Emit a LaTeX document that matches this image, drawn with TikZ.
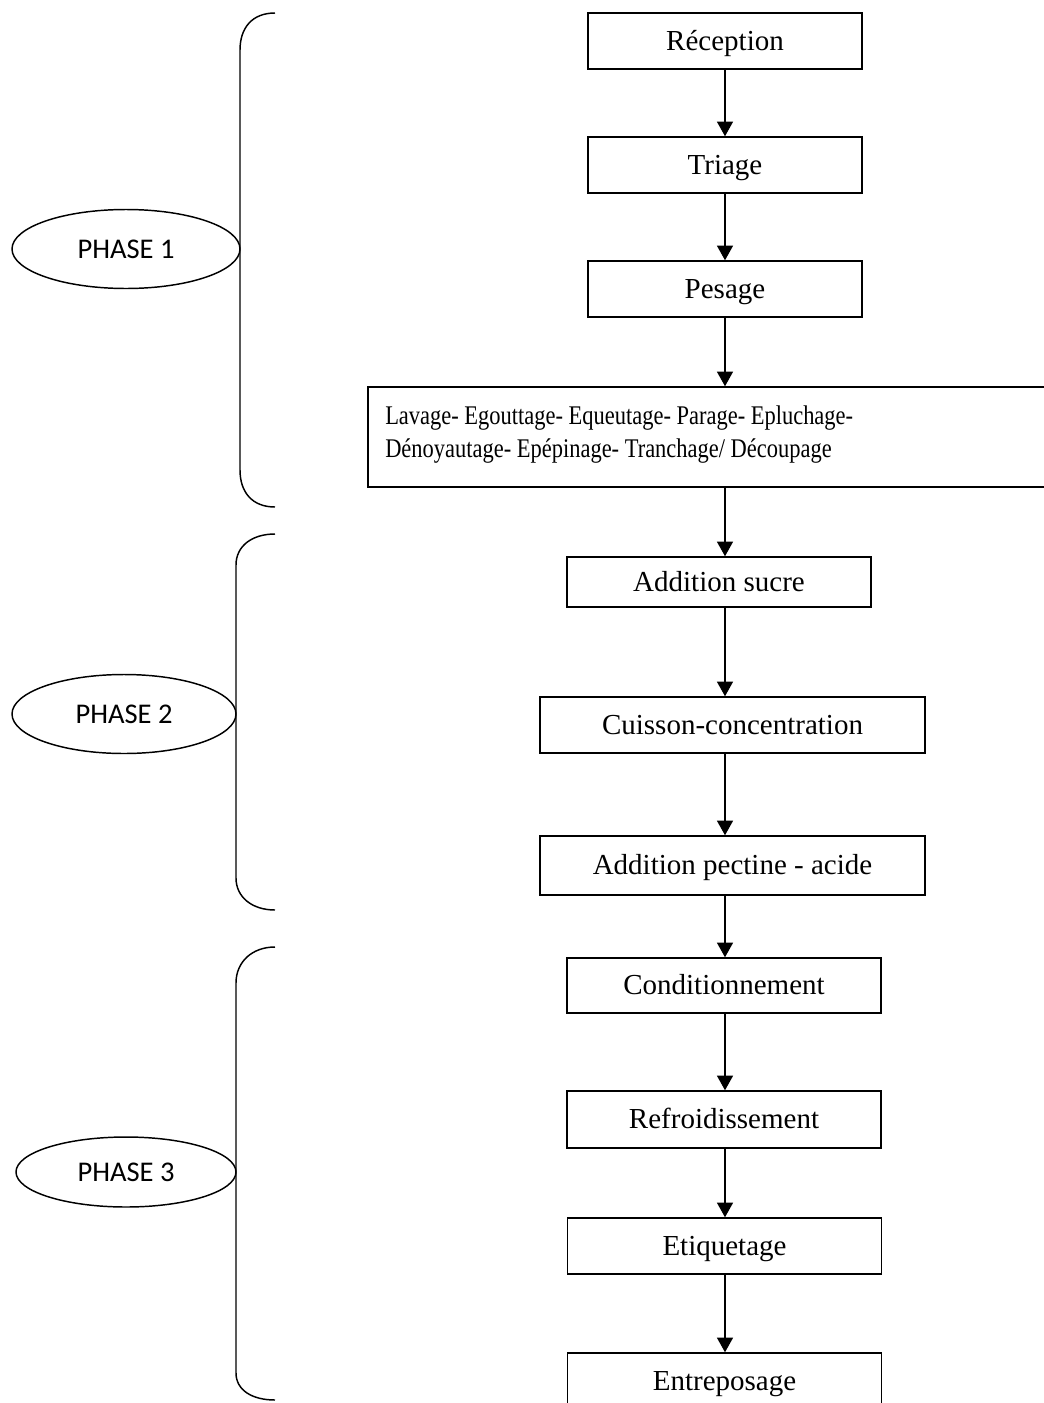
\documentclass[tikz,border=0pt]{standalone}
\usepackage{fontspec}
\setmainfont{Liberation Serif}
\newfontfamily\phasefont{Carlito}
\usetikzlibrary{arrows.meta,shapes.geometric}
\begin{document}
\begin{tikzpicture}[x=0.75pt,y=-0.75pt,
  stepbox/.style={draw, line width=1.1pt, rectangle, inner sep=0pt,
    text height=15.2pt, text depth=1.7pt,
    font=\fontsize{21.75}{26}\selectfont},
  phase/.style={draw, ellipse, line width=1.1pt, inner sep=0pt,
    text height=13.8pt, text depth=0pt,
    font=\phasefont\fontsize{21.4}{26}\selectfont},
  flow/.style={line width=1.1pt, -{Triangle[length=11pt,width=12pt]}},
  bracket/.style={line width=1.1pt},
  prepline/.style={anchor=base west, inner sep=0pt,
    font=\fontsize{16.85}{20}\selectfont}]
\useasboundingbox (0,0) rectangle (1044,1403);
\begin{scope}
\clip (0,0) rectangle (1044,1403);

% column of the process steps
\coordinate (axis) at (725,0);

\node[stepbox, minimum width=205.5pt, minimum height=42pt] (rec) at (725,41) {Réception};
\node[stepbox, minimum width=205.5pt, minimum height=42pt] (tri) at (725,165) {Triage};
\node[stepbox, minimum width=205.5pt, minimum height=42pt] (pes) at (725,289) {Pesage};
\node[draw, line width=1.1pt, rectangle, inner sep=0pt,
      minimum width=519pt, minimum height=75pt] (prep) at (714,437) {};
\node[prepline] (prepA) at (385,424) {\scalebox{1}[1.2]{Lavage- Egouttage- Equeutage- Parage- Epluchage-}};
\node[prepline] (prepB) at (385,457) {\scalebox{1}[1.2]{Dénoyautage- Epépinage- Tranchage/ Découpage}};

\node[stepbox, minimum width=228pt, minimum height=37.5pt] (suc) at (719,582) {Addition sucre};
\node[stepbox, minimum width=288.75pt, minimum height=42pt] (cui) at (732.5,725) {Cuisson-concentration};
\node[stepbox, minimum width=288.75pt, minimum height=44.25pt] (pec) at (732.5,865.5) {Addition pectine - acide};

\node[stepbox, minimum width=235.5pt, minimum height=41.25pt] (con) at (724,985.5) {Conditionnement};
\node[stepbox, minimum width=235.5pt, minimum height=42.75pt] (ref) at (724,1119.5) {Refroidissement};
\node[stepbox, minimum width=235.5pt, minimum height=42pt] (eti) at (724.5,1246) {Etiquetage};
\node[stepbox, minimum width=235.5pt, minimum height=42pt] (ent) at (724.5,1381) {Entreposage};

% arrows between steps
\foreach \a/\b in {rec/tri, tri/pes, pes/prep, prep/suc, suc/cui, cui/pec,
                   pec/con, con/ref, ref/eti, eti/ent}
  \draw[flow] (\a.south -| axis) -- (\b.north -| axis);

% phase labels
\node[phase, minimum width=171pt, minimum height=59.25pt] (ph1) at (126,249) {PHASE 1};
\node[phase, minimum width=168pt, minimum height=59.25pt] (ph2) at (124,714) {PHASE 2};
\node[phase, minimum width=165pt, minimum height=52.5pt] (ph3) at (126,1172) {PHASE 3};

% brackets grouping the steps of each phase
\draw[bracket] (275,13) .. controls (252,13) and (240,28) .. (240,50)
  -- (240,470) .. controls (240,492) and (252,507) .. (275,507);
\draw[bracket] (275,534) .. controls (252,534) and (236,546) .. (236,565)
  -- (236,878) .. controls (236,897) and (252,910) .. (275,910);
\draw[bracket] (275,947) .. controls (252,947) and (236,962) .. (236,983)
  -- (236,1373) .. controls (236,1390) and (252,1400) .. (275,1400);
\end{scope}
\end{tikzpicture}
\end{document}
